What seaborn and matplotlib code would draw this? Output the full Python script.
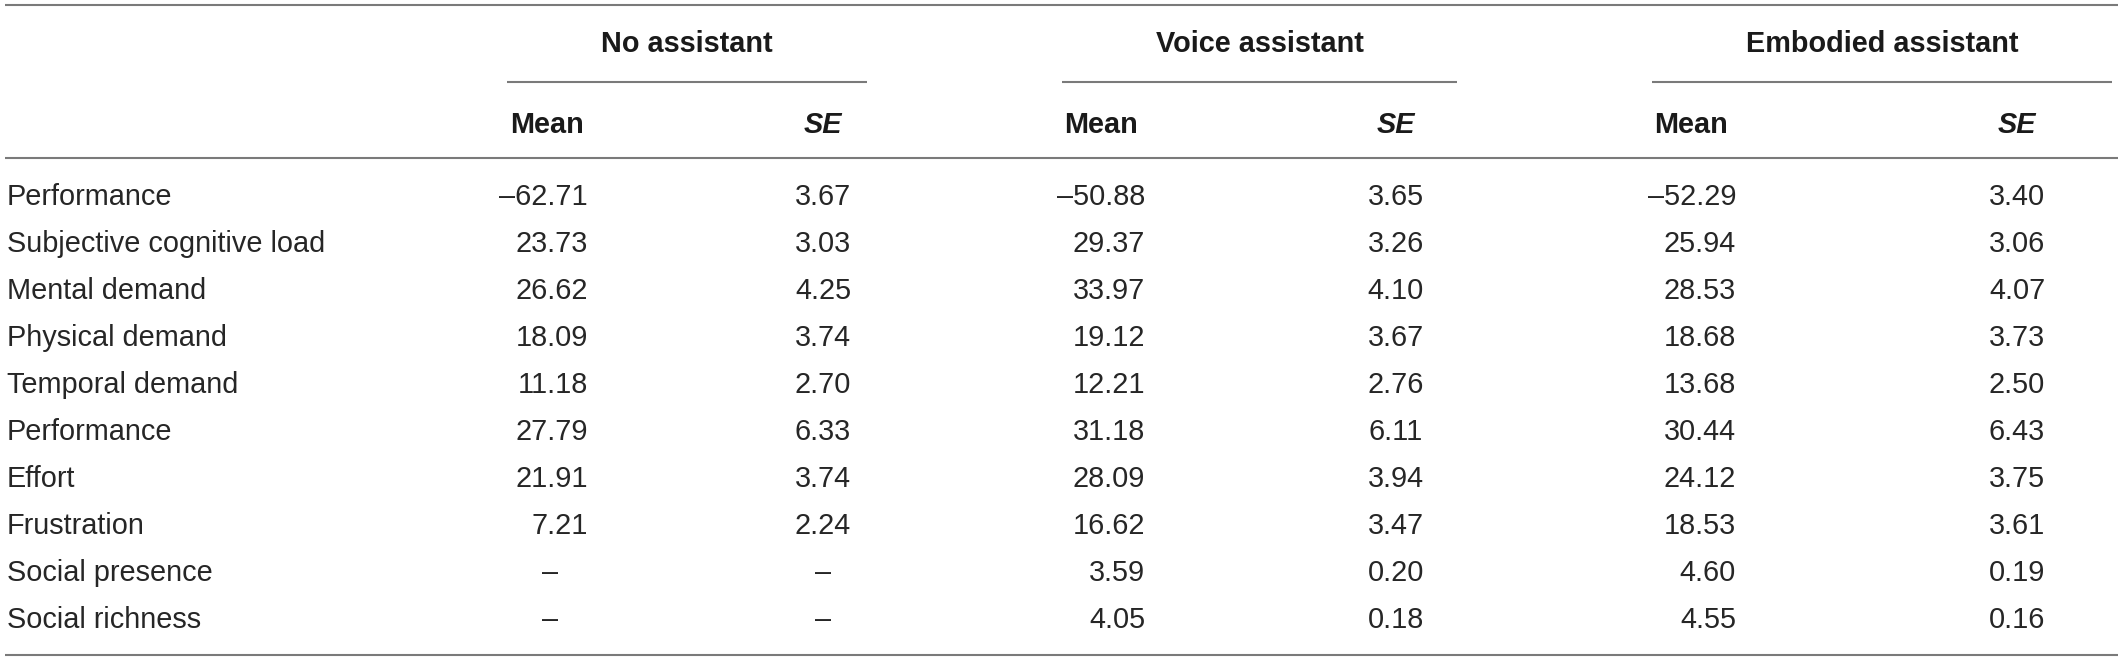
import matplotlib
matplotlib.use("Agg")
import matplotlib.pyplot as plt
import seaborn as sns
import pandas as pd

# ---------------- data ----------------
row_labels = ["Performance", "Subjective cognitive load", "Mental demand",
              "Physical demand", "Temporal demand", "Performance", "Effort",
              "Frustration", "Social presence", "Social richness"]
groups = ["No assistant", "Voice assistant", "Embodied assistant"]
sub_headers = ["Mean", "SE"]

no_mean = [-62.71, 23.73, 26.62, 18.09, 11.18, 27.79, 21.91, 7.21, None, None]
no_se = [3.67, 3.03, 4.25, 3.74, 2.70, 6.33, 3.74, 2.24, None, None]
voice_mean = [-50.88, 29.37, 33.97, 19.12, 12.21, 31.18, 28.09, 16.62, 3.59, 4.05]
voice_se = [3.65, 3.26, 4.10, 3.67, 2.76, 6.11, 3.94, 3.47, 0.20, 0.18]
emb_mean = [-52.29, 25.94, 28.53, 18.68, 13.68, 30.44, 24.12, 18.53, 4.60, 4.55]
emb_se = [3.40, 3.06, 4.07, 3.73, 2.50, 6.43, 3.75, 3.61, 0.19, 0.16]

df = pd.DataFrame({
    "label": row_labels,
    "no_mean": no_mean, "no_se": no_se,
    "voice_mean": voice_mean, "voice_se": voice_se,
    "emb_mean": emb_mean, "emb_se": emb_se,
})

# ---------------- style ----------------
sns.set_theme(style="white")
plt.rcParams["font.family"] = ["Liberation Sans", "DejaVu Sans"]

W, H = 2118, 661
DPI = 100
fig = plt.figure(figsize=(W / DPI, H / DPI), dpi=DPI)
ax = fig.add_axes([0, 0, 1, 1])
ax.set_xlim(0, W)
ax.set_ylim(H, 0)
ax.axis("off")

FS = 20.8
TXT = "#262626"
LINE = "#7a7a7a"
LW = 1.5

# layout (pixels)
group_spans = [(507, 867), (1062, 1457), (1652, 2112)]
mean_left = [510, 1064, 1654]
mean_right = [588, 1145, 1736]
mean_center = [550, 1102, 1692]
se_center = [823, 1396, 2017]
label_x = 7
row0, row_step = 205, 47

# rules
ax.plot([5, W], [5, 5], color=LINE, lw=LW, solid_capstyle="butt")
ax.plot([5, W], [158, 158], color=LINE, lw=LW, solid_capstyle="butt")
ax.plot([5, W], [655, 655], color=LINE, lw=LW, solid_capstyle="butt")
for (x0, x1), g in zip(group_spans, groups):
    ax.plot([x0, x1], [82, 82], color=LINE, lw=LW, solid_capstyle="butt")
    ax.text((x0 + x1) / 2, 52, g, ha="center", va="baseline",
            fontsize=FS, fontweight="bold", color="#1a1a1a")

for i in range(3):
    ax.text(mean_left[i], 133, sub_headers[0], ha="left", va="baseline",
            fontsize=FS, fontweight="bold", color="#1a1a1a")
    ax.text(se_center[i], 133, sub_headers[1], ha="center", va="baseline",
            fontsize=FS, fontweight="bold", fontstyle="italic", color="#1a1a1a")


def fmt(v):
    s = f"{abs(v):.2f}"
    return ("\u2013" + s) if v < 0 else s


cols = [("no_mean", "no_se"), ("voice_mean", "voice_se"), ("emb_mean", "emb_se")]
for r, row in df.iterrows():
    y = row0 + r * row_step
    ax.text(label_x, y, row["label"], ha="left", va="baseline",
            fontsize=FS, color=TXT)
    for i, (mc, sc) in enumerate(cols):
        m = row[mc]
        s = row[sc]
        if pd.isna(m):
            ax.text(mean_center[i], y, "\u2013", ha="center", va="baseline",
                    fontsize=FS, color=TXT)
        else:
            ax.text(mean_right[i], y, fmt(m), ha="right", va="baseline",
                    fontsize=FS, color=TXT)
        if pd.isna(s):
            ax.text(se_center[i], y, "\u2013", ha="center", va="baseline",
                    fontsize=FS, color=TXT)
        else:
            ax.text(se_center[i], y, fmt(s), ha="center", va="baseline",
                    fontsize=FS, color=TXT)

fig.savefig("out.png", dpi=DPI, facecolor="white")
